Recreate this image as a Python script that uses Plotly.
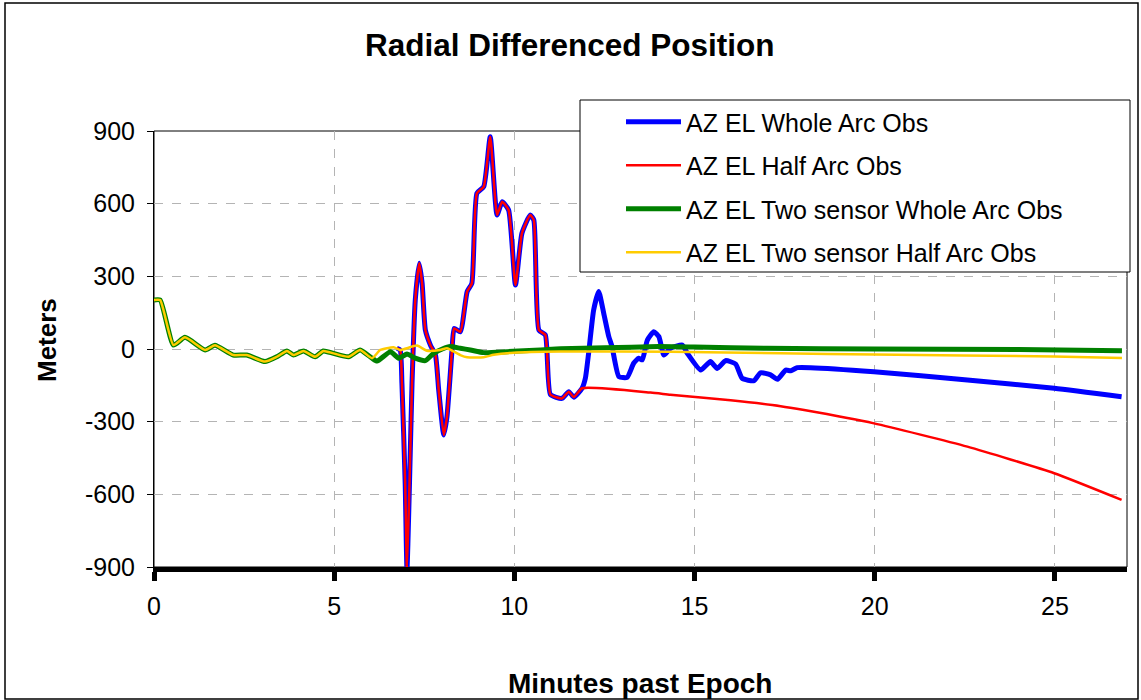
import plotly.graph_objects as go

# ---------------- data (minutes past epoch, meters) ----------------
common_t = [0, 0.17, 0.54, 0.86, 1.42, 1.69, 2.2, 2.57, 3.08, 3.41, 3.69, 3.87,
            4.15, 4.47, 4.70, 4.98, 5.40, 5.72, 6.05]
common_v = [202, 202, 16, 48, -4, 15, -25, -25, -52, -32, -8, -25,
            -8, -32, -8, -18, -32, -4, -38]

green_t = [6.19, 6.56, 6.79, 7.02, 7.25, 7.53, 7.76, 8.0, 8.22, 8.5, 8.78, 9.15,
           9.8, 10.72, 11.28, 12.5, 14.0, 15.0, 17.0, 20.0, 24.0, 26.86]
green_v = [-50, -11, -38, -21, -38, -48, -18, 0, 10, 3, -4, -15,
           -11, -4, 1, 5, 10, 8, 3, 0, -2, -7]

yellow_t = [6.28, 6.65, 6.83, 7.30, 7.57, 7.94, 8.13, 8.5, 8.69, 9.15, 9.43, 9.98,
            11.28, 14.33, 17.39, 19.98, 24.98, 26.86]
yellow_v = [-4, 7, -4, 14, -7, -4, 3, -25, -34, -34, -24, -15,
            -10, -11, -18, -23, -31, -37]

spike_t = [6.74, 6.83, 6.88, 6.97, 7.02, 7.09, 7.16, 7.25, 7.36, 7.44, 7.53, 7.67,
           7.81, 7.90, 8.04, 8.13, 8.27, 8.33, 8.5, 8.69, 8.82, 8.96, 9.15, 9.33,
           9.52, 9.66, 9.84, 10.03, 10.21, 10.44, 10.54, 10.68, 10.86, 11.0, 11.32,
           11.51, 11.65, 11.88]
spike_v = [3, -4, -142, -554, -910, -554, -142, 202, 354, 271, 78, 16,
           -25, -169, -355, -279, -4, 85, 71, 237, 271, 643, 670, 876,
           553, 608, 574, 264, 478, 553, 532, 78, 58, -188, -204,
           -176, -199, -162]

blue_t = [11.97, 12.06, 12.2, 12.34, 12.48, 12.62, 12.71, 12.9, 13.13, 13.31, 13.45,
          13.55, 13.69, 13.87, 14.01, 14.15, 14.33, 14.66, 14.8, 15.17, 15.44, 15.63,
          15.86, 16.14, 16.32, 16.65, 16.83, 17.11, 17.3, 17.53, 17.67, 17.85, 18.22,
          19.98, 22.57, 24.98, 26.85]
blue_v = [-121, -18, 161, 237, 147, 51, 10, -114, -117, -59, -38,
          -45, 37, 71, 51, -25, 3, 16, -18, -87, -52, -80,
          -48, -62, -121, -131, -98, -107, -125, -87, -90, -77, -77,
          -94, -128, -162, -197]

red_t = [13.78, 14.33, 16.0, 17.39, 18.04, 19.98, 22.57, 24.98, 26.85]
red_v = [-180, -189, -212, -236, -252, -307, -403, -513, -623]

names = ["AZ EL Whole Arc Obs", "AZ EL Half Arc Obs",
         "AZ EL Two sensor Whole Arc Obs", "AZ EL Two sensor Half Arc Obs"]
colors = ["#0000FF", "#FF0000", "#008000", "#FFCC00"]
widths = [5, 2.5, 5, 2.5]

y_ticks = [-900, -600, -300, 0, 300, 600, 900]
x_ticks = [0, 5, 10, 15, 20, 25]

series = [
    (spike_t + blue_t, spike_v + blue_v),
    (spike_t + red_t, spike_v + red_v),
    (common_t + green_t, common_v + green_v),
    (common_t + yellow_t, common_v + yellow_v),
]

FONT = "Liberation Sans, Arial, sans-serif"
fig = go.Figure()
for i, (xs, ys) in enumerate(series):
    fig.add_trace(go.Scatter(
        x=xs, y=ys, mode="lines", name=names[i], legendgroup=str(i),
        line=dict(color=colors[i], width=widths[i], shape="spline", smoothing=0.5),
    ))

L, R, T, B = 154, 14, 131, 133
W, H = 1141, 700
pw, ph = W - L - R, H - T - B

def px(xp):
    return (xp - L) / pw

def py(yp):
    return (H - B - yp) / ph

fig.update_layout(
    width=W, height=H,
    margin=dict(l=L, r=R, t=T, b=B),
    paper_bgcolor="white", plot_bgcolor="white",
    font=dict(family=FONT, size=25, color="black"),
    showlegend=True,
    legend=dict(
        x=px(621), y=py(99), xanchor="left", yanchor="top",
        bgcolor="rgba(0,0,0,0)", borderwidth=0,
        font=dict(size=25, family=FONT), tracegroupgap=8,
        traceorder="grouped", itemwidth=55,
    ),
    xaxis=dict(
        range=[0, 27], tickvals=x_ticks, ticktext=[str(v) for v in x_ticks],
        showgrid=True, gridcolor="#b4b4b4", griddash="dash", gridwidth=1,
        showline=True, linecolor="black", linewidth=5,
        ticks="outside", tickwidth=5, ticklen=9, tickcolor="black",
        zeroline=False, tickfont=dict(size=25), ticklabelstandoff=4,
    ),
    yaxis=dict(
        range=[-900, 900], tickvals=y_ticks, ticktext=[str(v) for v in y_ticks],
        showgrid=True, gridcolor="#b4b4b4", griddash="dash", gridwidth=1,
        showline=True, linecolor="black", linewidth=1,
        ticks="outside", tickwidth=1, ticklen=6, tickcolor="black",
        zeroline=False, tickfont=dict(size=25), ticklabelstandoff=7,
    ),
    shapes=[
        # plot-area frame
        dict(type="rect", xref="paper", yref="paper", x0=0, x1=1, y0=0, y1=1,
             line=dict(color="black", width=1), layer="below"),
        # legend box
        dict(type="rect", xref="paper", yref="paper",
             x0=px(580), x1=px(1130), y0=py(272), y1=py(100),
             line=dict(color="black", width=1), fillcolor="white", layer="above"),
        # outer chart border
        dict(type="rect", xref="paper", yref="paper",
             x0=px(5), x1=px(1138), y0=py(699), y1=py(3),
             line=dict(color="black", width=1.5), layer="above"),
    ],
    annotations=[
        dict(text="<b>Radial Differenced Position</b>", xref="paper", yref="paper",
             x=px(570), y=py(45), xanchor="center", yanchor="middle",
             showarrow=False, font=dict(size=31.5, family=FONT)),
        dict(text="<b>Minutes past Epoch</b>", xref="paper", yref="paper",
             x=px(640), y=py(683), xanchor="center", yanchor="middle",
             showarrow=False, font=dict(size=28, family=FONT)),
        dict(text="<b>Meters</b>", xref="paper", yref="paper",
             x=px(47), y=py(340), xanchor="center", yanchor="middle", textangle=-90,
             showarrow=False, font=dict(size=26, family=FONT)),
    ],
)

fig.write_html("out.html")
